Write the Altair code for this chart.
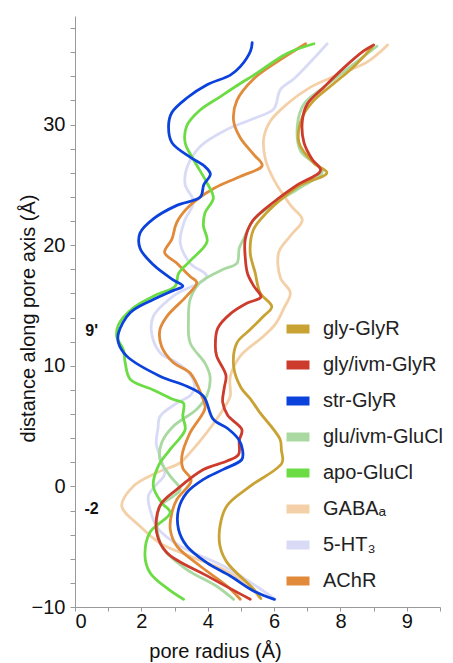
import altair as alt
import pandas as pd

SERIES = ["gly-GlyR", "gly/ivm-GlyR", "str-GlyR", "glu/ivm-GluCl", "apo-GluCl",
          "GABA\u2090", "5-HT\u2083", "AChR"]
COLORS = ["#c9a234", "#cc3b2b", "#0b42dc", "#a9d9a0", "#6cdc44",
          "#f4d0a8", "#d9dbf6", "#e08a3a"]
DRAW_ORDER = ["GABA\u2090", "5-HT\u2083", "glu/ivm-GluCl", "AChR", "apo-GluCl",
              "gly-GlyR", "gly/ivm-GlyR", "str-GlyR"]

# radius (x) and axial distance (y) for each profile, bottom to top
R_GLY = [5.6, 5.38, 4.58, 4.37, 4.37, 4.58, 5.28, 6.24, 6.22, 6.18, 5.55, 5.3, 5.0, 4.78, 4.88, 5.28,
         5.68, 5.93, 5.58, 5.43, 5.28, 5.38, 5.78, 6.3, 6.8, 7.59, 7.2, 6.75, 6.85, 7.2, 7.8, 8.4, 8.95]
Z_GLY = [-9.3, -8.5, -6.3, -4.95, -3.3, -1.6, 0.02, 1.96, 3.0, 3.9, 6.2, 7.2, 8.2, 9.97, 11.9, 13.0,
         14.1, 14.9, 16.05, 17.7, 19.4, 21.3, 22.7, 24.0, 25.0, 26.0, 26.8, 28.5, 30.6, 32.0, 33.4, 34.8, 36.4]

R_IVM = [5.28, 3.97, 2.77, 2.46, 2.56, 3.07, 3.87, 4.58, 4.93, 4.95, 5.03, 4.6, 4.45, 4.5, 4.55, 4.27,
         4.23, 4.3, 4.68, 5.19, 5.6, 5.39, 5.2, 5.13, 5.13, 5.35, 6.0, 6.7, 7.4, 7.15, 6.9, 6.85, 7.0,
         7.5, 8.1, 8.7, 9.0]
Z_IVM = [-9.36, -7.4, -5.5, -3.8, -1.6, -0.25, 1.4, 2.1, 2.65, 3.8, 4.7, 5.9, 7.0, 8.2, 9.2, 10.8,
         11.6, 13.1, 14.3, 15.2, 15.7, 16.6, 17.65, 19.0, 20.5, 22.0, 23.6, 25.0, 26.2, 27.1, 28.5, 30.3, 31.7,
         33.1, 34.7, 36.1, 36.6]

R_STR = [6.01, 5.38, 4.68, 3.97, 3.37, 3.12, 3.12, 3.37, 3.87, 4.47, 5.03, 5.05, 4.93, 4.6, 4.17, 3.87,
         3.37, 2.56, 1.56, 1.31, 1.31, 1.66, 2.36, 2.97, 3.25, 2.97, 2.37, 1.96, 1.96, 2.37, 3.07, 3.78,
         3.88, 4.08, 3.88, 3.47, 2.92, 2.82, 2.92, 3.37, 3.98, 4.68, 4.98, 5.29, 5.34]
Z_STR = [-9.37, -8.67, -7.43, -6.32, -4.95, -3.56, -1.9, -0.52, 0.58, 1.41, 2.24, 3.0, 3.9, 4.8, 5.55, 7.48,
         8.3, 9.14, 10.8, 11.9, 12.7, 14.4, 15.5, 16.25, 16.6, 17.1, 18.35, 19.75, 21.0, 22.2, 23.3, 24.0,
         25.0, 25.9, 26.6, 27.3, 28.5, 29.9, 31.0, 32.2, 33.3, 34.1, 34.8, 36.1, 36.8]

R_GLU = [4.78, 4.28, 3.37, 2.67, 2.47, 2.57, 2.97, 3.17, 2.87, 2.56, 2.61, 2.97, 3.67, 3.97, 4.07, 3.92,
         3.47, 3.42, 3.47, 3.77, 4.47, 4.88, 4.95, 5.08, 5.38, 6.1, 6.8, 7.45, 6.8, 6.7, 6.9, 7.5, 8.3, 9.1]
Z_GLU = [-9.37, -8.3, -6.9, -5.2, -3.4, -1.65, -0.8, -0.25, 0.85, 2.24, 3.6, 5.0, 6.4, 7.5, 9.1, 10.2,
         11.9, 13.8, 15.5, 16.9, 18.0, 18.5, 19.75, 20.5, 22.1, 23.6, 24.8, 26.1, 27.8, 29.9, 31.7, 33.1, 34.8, 36.5]

R_APO = [3.27, 2.8, 2.26, 2.11, 2.26, 2.87, 2.61, 2.36, 2.51, 2.87, 3.32, 3.25, 3.27, 2.97, 2.36, 1.66,
         1.51, 1.46, 1.26, 1.31, 1.76, 2.47, 3.02, 3.12, 3.47, 3.98, 3.87, 3.92, 4.17, 3.97, 3.57, 3.32,
         3.37, 3.77, 4.37, 4.98, 5.39, 6.39, 7.2]
Z_APO = [-9.36, -8.5, -7.15, -5.8, -3.8, -2.18, -1.35, 0.02, 1.68, 3.07, 4.7, 5.8, 6.9, 7.2, 8.0, 8.9,
         10.3, 11.3, 12.4, 13.4, 14.8, 15.9, 16.6, 17.65, 18.7, 20.3, 21.6, 22.7, 23.9, 25.2, 27.1, 28.5,
         29.9, 31.2, 32.3, 33.4, 34.1, 35.9, 36.7]

R_GABA = [5.55, 5.28, 4.47, 3.47, 2.56, 1.96, 1.41, 1.76, 2.46, 3.17, 3.47, 3.97, 4.58, 4.68, 4.68, 4.98,
          5.68, 6.05, 6.3, 6.49, 6.19, 6.14, 6.5, 6.85, 6.5, 6.0, 5.74, 5.69, 5.89, 6.39, 7.1, 7.9, 8.81, 9.42]
Z_GABA = [-9.2, -8.3, -6.9, -5.8, -4.7, -3.3, -1.63, 0.02, 1.13, 1.96, 2.8, 4.45, 6.9, 7.5, 9.1, 10.8,
          12.45, 13.5, 14.8, 16.05, 17.3, 19.4, 20.8, 22.1, 23.3, 25.4, 27.1, 28.9, 30.3, 31.7, 33.1, 34.1, 35.2, 36.6]

R_HT3 = [6.03, 5.48, 4.47, 3.17, 2.5, 2.26, 2.21, 2.41, 2.7, 2.6, 2.45, 2.5, 2.56, 3.07, 3.5, 3.6,
         3.37, 3.07, 2.56, 2.31, 2.36, 2.97, 3.97, 3.47, 3.17, 3.3, 3.57, 3.32, 3.37, 3.78, 4.58, 5.39,
         5.99, 6.19, 6.6, 7.1, 7.6]
Z_HT3 = [-9.36, -8.3, -6.6, -4.95, -3.5, -1.9, -0.8, 0.02, 1.0, 2.2, 3.5, 4.8, 5.8, 6.9, 7.6, 8.5,
         9.6, 10.25, 11.1, 12.7, 14.1, 15.8, 17.4, 18.5, 20.2, 22.0, 23.6, 25.0, 26.4, 28.2, 29.6, 30.5,
         31.3, 32.9, 33.8, 35.2, 36.7]

R_ACH = [4.98, 4.58, 3.77, 3.07, 2.87, 2.92, 3.07, 3.5, 3.25, 3.22, 3.47, 3.92, 3.82, 3.47, 2.97, 2.61,
         2.56, 2.77, 3.37, 3.67, 3.47, 3.07, 2.7, 2.92, 3.07, 3.47, 4.18, 4.98, 5.64, 5.39, 4.98, 4.78,
         4.88, 5.39, 6.09, 6.95]
Z_ACH = [-9.36, -8.26, -6.6, -4.95, -3.56, -2.18, -1.08, 0.5, 1.5, 2.5, 4.45, 6.5, 7.5, 9.4, 10.25, 11.6,
         13.0, 14.1, 15.8, 16.9, 17.4, 18.5, 19.4, 20.5, 21.9, 23.3, 24.7, 25.7, 26.6, 27.5, 28.9, 30.3,
         32.0, 33.8, 35.2, 36.7]

PROFILES = {
    "gly-GlyR": (R_GLY, Z_GLY),
    "gly/ivm-GlyR": (R_IVM, Z_IVM),
    "str-GlyR": (R_STR, Z_STR),
    "glu/ivm-GluCl": (R_GLU, Z_GLU),
    "apo-GluCl": (R_APO, Z_APO),
    "GABA\u2090": (R_GABA, Z_GABA),
    "5-HT\u2083": (R_HT3, Z_HT3),
    "AChR": (R_ACH, Z_ACH),
}

ANNOT_TEXT = ["9'", "-2"]
ANNOT_R = [0.5, 0.5]
ANNOT_Z = [12.85, -1.9]

X_TICKS = list(range(0, 12))
Y_TICKS = list(range(-10, 39, 2))

rows = []
for name in DRAW_ORDER:
    rs, zs = PROFILES[name]
    for i, (r, z) in enumerate(zip(rs, zs)):
        rows.append({"series": name, "r": r, "z": z, "i": i})
df = pd.DataFrame(rows)
ann = pd.DataFrame({"t": ANNOT_TEXT, "r": ANNOT_R, "z": ANNOT_Z})

FONT = "Liberation Sans"

x_scale = alt.Scale(domain=[0, 11], nice=False, zero=False)
y_scale = alt.Scale(domain=[-10, 39], nice=False, zero=False)

x_axis = alt.Axis(
    values=X_TICKS, title="pore radius (Å)", grid=False, labelOverlap=False,
    labelExpr="datum.value == 10 ? '9' : (datum.value % 2 == 0 && datum.value < 10 ? datum.label : '')",
    labelFont=FONT, labelFontSize=20, labelColor="#111", labelBaseline="alphabetic",
    labelPadding=16, tickSize=4, tickColor="#999", domainColor="#999",
    titleFont=FONT, titleFontSize=20, titleFontWeight="normal", titleColor="#111",
    titleX=140, titleY=50, titleBaseline="alphabetic", titleAnchor="middle", titleAlign="center")
y_axis = alt.Axis(
    values=Y_TICKS, title="distance along pore axis (Å)", grid=False, labelOverlap=False,
    labelExpr="datum.value % 10 == 0 ? datum.label : ''",
    labelFont=FONT, labelFontSize=20, labelColor="#111", labelPadding=5,
    tickSize=5, tickColor="#999", domainColor="#999",
    titleFont=FONT, titleFontSize=20, titleFontWeight="normal", titleColor="#111",
    titleX=-47, titleY=302, titleAngle=-90, titleBaseline="middle", titleAlign="center")

lines = alt.Chart(df).mark_line(strokeWidth=2.8, strokeCap="round", strokeJoin="round",
                                interpolate="catmull-rom").encode(
    x=alt.X("r:Q", scale=x_scale, axis=x_axis),
    y=alt.Y("z:Q", scale=y_scale, axis=y_axis),
    color=alt.Color("series:N", scale=alt.Scale(domain=SERIES, range=COLORS),
                    sort=SERIES,
                    legend=alt.Legend(orient="none", legendX=207, legendY=297, title=None,
                                      symbolType="stroke", symbolStrokeWidth=9, symbolSize=529,
                                      labelFont=FONT, labelFontSize=20, labelColor="#222",
                                      labelOffset=9, rowPadding=0, padding=0)),
    detail="series:N",
    order="i:Q",
)

labels = alt.Chart(ann).mark_text(font=FONT, fontSize=16, fontWeight="bold", color="#111").encode(
    x=alt.X("r:Q", scale=x_scale, axis=x_axis),
    y=alt.Y("z:Q", scale=y_scale, axis=y_axis),
    text="t:N",
)

chart = alt.layer(lines, labels).properties(
    width=365, height=591,
    padding={"left": 75, "top": 16, "right": 13, "bottom": 56},
    autosize=alt.AutoSizeParams(type="none"),
    background="white",
).configure_view(stroke=None).configure_axis(labelOverlap=False)

chart.save("out.html", embed_options={"renderer": "svg", "actions": False})
